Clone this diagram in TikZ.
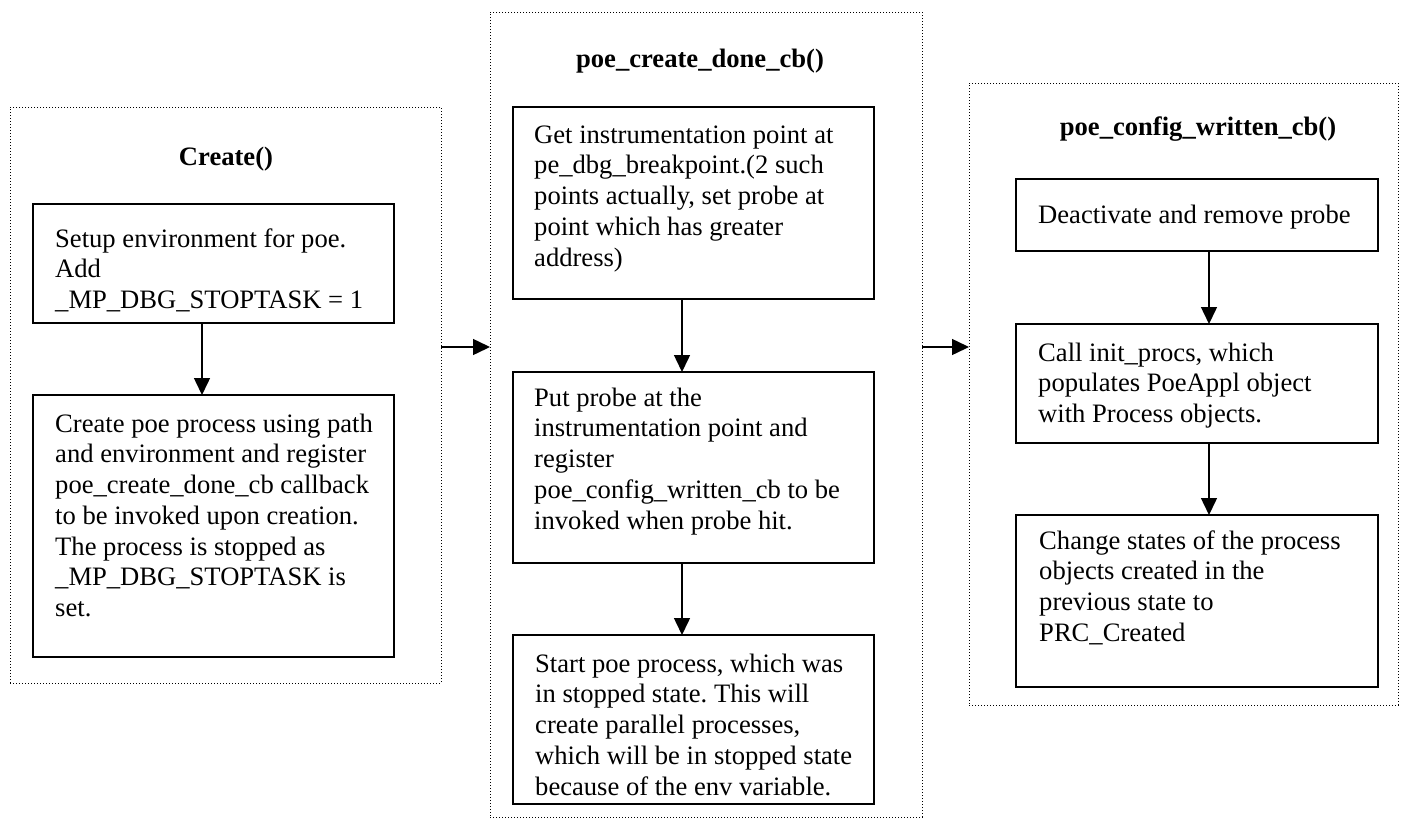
\documentclass[tikz,border=0pt]{standalone}
\usepackage{fontspec}
\setmainfont{Liberation Serif}
\usetikzlibrary{arrows.meta}
\frenchspacing
\begin{document}
\begin{tikzpicture}[x=1pt,y=-1pt,
 panel/.style={draw, line width=1pt, dash pattern=on 1pt off 2pt, inner sep=0pt, outer sep=0pt, anchor=north west},
 stepbox/.style={draw, line width=1.5pt, inner sep=0pt, outer sep=0pt, anchor=north west},
 txt/.style={anchor=north west, inner sep=0pt, align=left, font=\fontsize{26.6}{30.7}\selectfont},
 ttl/.style={anchor=base, inner sep=0pt, font=\fontsize{26.6}{30.7}\selectfont\bfseries},
 arr/.style={-{Triangle[length=17pt,width=16pt]}, line width=1.5pt}
]
\useasboundingbox (0,0) rectangle (1408,827);
% panels
\node[panel, minimum width=431pt, minimum height=576pt] (p1) at (10,107) {};
\node[panel, minimum width=432pt, minimum height=805pt] (p2) at (490,12) {};
\node[panel, minimum width=429pt, minimum height=622pt] (p3) at (969,83) {};
% titles
\node[ttl] (t1) at (226,165) {Create()};
\node[ttl] (t2) at (700,67) {poe\_create\_done\_cb()};
\node[ttl] (t3) at (1198,135) {poe\_config\_written\_cb()};
% boxes
\node[stepbox, minimum width=361pt, minimum height=119pt] (b1a) at (33,204) {};
\node[stepbox, minimum width=361pt, minimum height=262pt] (b1b) at (33,395) {};
\node[stepbox, minimum width=361pt, minimum height=192pt] (b2a) at (513,107) {};
\node[stepbox, minimum width=361pt, minimum height=191pt] (b2b) at (513,372) {};
\node[stepbox, minimum width=361pt, minimum height=169pt] (b2c) at (513,635) {};
\node[stepbox, minimum width=362pt, minimum height=72pt] (b3a) at (1016,179) {};
\node[stepbox, minimum width=362pt, minimum height=119pt] (b3b) at (1016,324) {};
\node[stepbox, minimum width=362pt, minimum height=172pt] (b3c) at (1016,515) {};
% texts
\node[txt] (x1a) at (55,227) {\rule{0pt}{20pt}Setup environment for poe.\\Add\\\_MP\_DBG\_STOPTASK = 1};
\node[txt] (x1b) at (55,412) {\rule{0pt}{20pt}Create poe process using path\\and environment and register\\poe\_create\_done\_cb callback\\to be invoked upon creation.\\The process is stopped as\\\_MP\_DBG\_STOPTASK is\\set.};
\node[txt] (x2a) at (534,123) {\rule{0pt}{20pt}Get instrumentation point at\\pe\_dbg\_breakpoint.(2 such\\points actually, set probe at\\point which has greater\\address)};
\node[txt] (x2b) at (534,386) {\rule{0pt}{20pt}Put probe at the\\instrumentation point and\\register\\poe\_config\_written\_cb to be\\invoked when probe hit.};
\node[txt] (x2c) at (535,652) {\rule{0pt}{20pt}Start poe process, which was\\in stopped state. This will\\create parallel processes,\\which will be in stopped state\\because of the env variable.};
\node[txt] (x3a) at (1038,203) {\rule{0pt}{20pt}Deactivate and remove probe};
\node[txt] (x3b) at (1038,341) {\rule{0pt}{20pt}Call init\_procs, which\\populates PoeAppl object\\with Process objects.};
\node[txt] (x3c) at (1039,529) {\rule{0pt}{20pt}Change states of the process\\objects created in the\\previous state to\\PRC\_Created};
% vertical arrows
\draw[arr] ([xshift=-11.5pt]b1a.south) -- ([xshift=-11.5pt]b1b.north);
\draw[arr] ([xshift=-11.5pt]b2a.south) -- ([xshift=-11.5pt]b2b.north);
\draw[arr] ([xshift=-11.5pt]b2b.south) -- ([xshift=-11.5pt]b2c.north);
\draw[arr] ([xshift=12pt]b3a.south) -- ([xshift=12pt]b3b.north);
\draw[arr] ([xshift=12pt]b3b.south) -- ([xshift=12pt]b3c.north);
% horizontal arrows
\coordinate (h1) at (441,347);
\coordinate (h2) at (922,347);
\draw[arr] (h1) -- (h1 -| p2.west);
\draw[arr] (h2) -- (h2 -| p3.west);
\end{tikzpicture}
\end{document}
